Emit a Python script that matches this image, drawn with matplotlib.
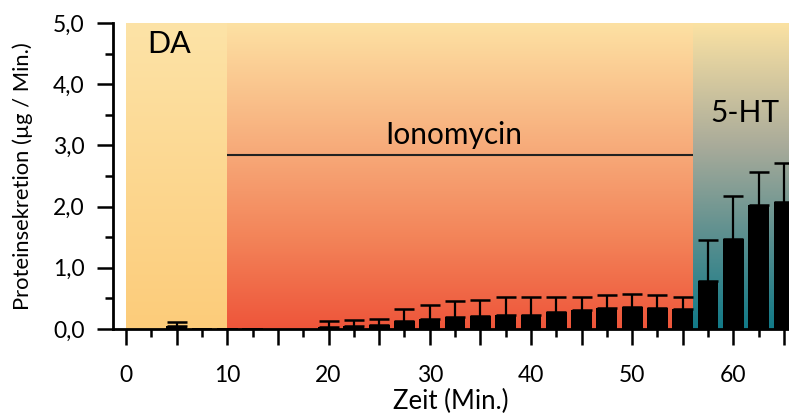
import numpy as np
import matplotlib
matplotlib.use("Agg")
import matplotlib.pyplot as plt
from matplotlib.colors import LinearSegmentedColormap
from matplotlib.ticker import MultipleLocator, FuncFormatter

plt.rcParams['font.family'] = ['Lato', 'DejaVu Sans']

# secretion per 2.5 min fraction (mean and upper SEM)
times = [5, 7.5, 10, 12.5, 20, 22.5, 25, 27.5, 30, 32.5, 35, 37.5, 40,
         42.5, 45, 47.5, 50, 52.5, 55, 57.5, 60, 62.5, 65]
means = [0.05, 0.01, 0.01, 0.01, 0.03, 0.05, 0.06, 0.13, 0.16, 0.20, 0.22, 0.23, 0.23,
         0.27, 0.31, 0.34, 0.36, 0.35, 0.33, 0.78, 1.47, 2.02, 2.07]
errs = [0.07, 0, 0, 0, 0.095, 0.09, 0.11, 0.19, 0.24, 0.26, 0.26, 0.30, 0.29,
        0.25, 0.22, 0.21, 0.21, 0.20, 0.19, 0.68, 0.71, 0.55, 0.64]

# treatment phases: (start, end, label)
phases = [(0, 10, "DA"), (10, 56, "Ionomycin"), (56, 66, "5-HT")]
iono_level = 2.84

fig = plt.figure(figsize=(7.89, 4.2), dpi=100)
ax = fig.add_axes([113/789, 1 - 329/420, 676/789, 306/420])

ymax = 5.0
grad = np.linspace(0, 1, 256).reshape(-1, 1)
cmaps = [
    LinearSegmentedColormap.from_list("da", ["#fccc7a", "#fde3a7"]),
    LinearSegmentedColormap.from_list("iono", [(0, "#ee553a"), (0.3, "#f38459"),
                                               (0.6, "#f7ac7b"), (1, "#fde1a3")]),
    LinearSegmentedColormap.from_list("ht", [(0, "#117a88"), (0.3, "#5b8f8f"),
                                             (0.6, "#a9ab9a"), (1, "#fbe2a3")]),
]
for (x0, x1, _), cm in zip(phases, cmaps):
    ax.imshow(grad, cmap=cm, origin="lower", aspect="auto",
              extent=[x0, x1, 0, ymax], zorder=0, interpolation="bicubic")

times = np.array(times)
means = np.array(means)
errs = np.array(errs)
ax.bar(times, means, width=2.05, color="black", zorder=2)
m = errs > 0
ax.errorbar(times[m], means[m], yerr=[np.zeros(m.sum()), errs[m]], fmt="none",
            ecolor="black", elinewidth=1.6, capsize=7.5, capthick=1.8, zorder=3)

ax.hlines(iono_level, phases[1][0], phases[1][1], color="#222222", lw=1.5, zorder=1)
ax.text(2.05, 4.51, "DA", fontsize=22, va="baseline", ha="left")
ax.text(32.4, 3.02, "Ionomycin", fontsize=21.5, va="baseline", ha="center")
ax.text(61.1, 3.38, "5-HT", fontsize=21.5, va="baseline", ha="center")

ax.set_xlim(-1.3, 65.5)
ax.set_ylim(0, ymax)

for s in ("top", "right"):
    ax.spines[s].set_visible(False)
for s in ("left", "bottom"):
    ax.spines[s].set_linewidth(2)

ax.xaxis.set_major_locator(MultipleLocator(5))
ax.xaxis.set_minor_locator(MultipleLocator(2.5))
ax.xaxis.set_major_formatter(FuncFormatter(lambda v, p: f"{v:.0f}" if v % 10 == 0 else ""))
ax.yaxis.set_major_locator(MultipleLocator(1))
ax.yaxis.set_minor_locator(MultipleLocator(0.5))
ax.yaxis.set_major_formatter(FuncFormatter(lambda v, p: f"{v:.1f}".replace(".", ",")))

ax.tick_params(axis="x", which="major", length=11.5, width=1.8, pad=14.5, labelsize=16.5)
ax.tick_params(axis="x", which="minor", length=6, width=1.8)
ax.tick_params(axis="y", which="major", length=11.5, width=1.8, pad=9, labelsize=16.5)
ax.tick_params(axis="y", which="minor", length=6, width=1.8)

ax.set_xlabel("Zeit (Min.)", fontsize=18.5)
ax.set_ylabel("Proteinsekretion (µg / Min.)", fontsize=15.8)
ax.xaxis.set_label_coords(0.5, -0.195)
ax.yaxis.set_label_coords(-0.118, 0.5)

fig.savefig("out.png", dpi=100)
